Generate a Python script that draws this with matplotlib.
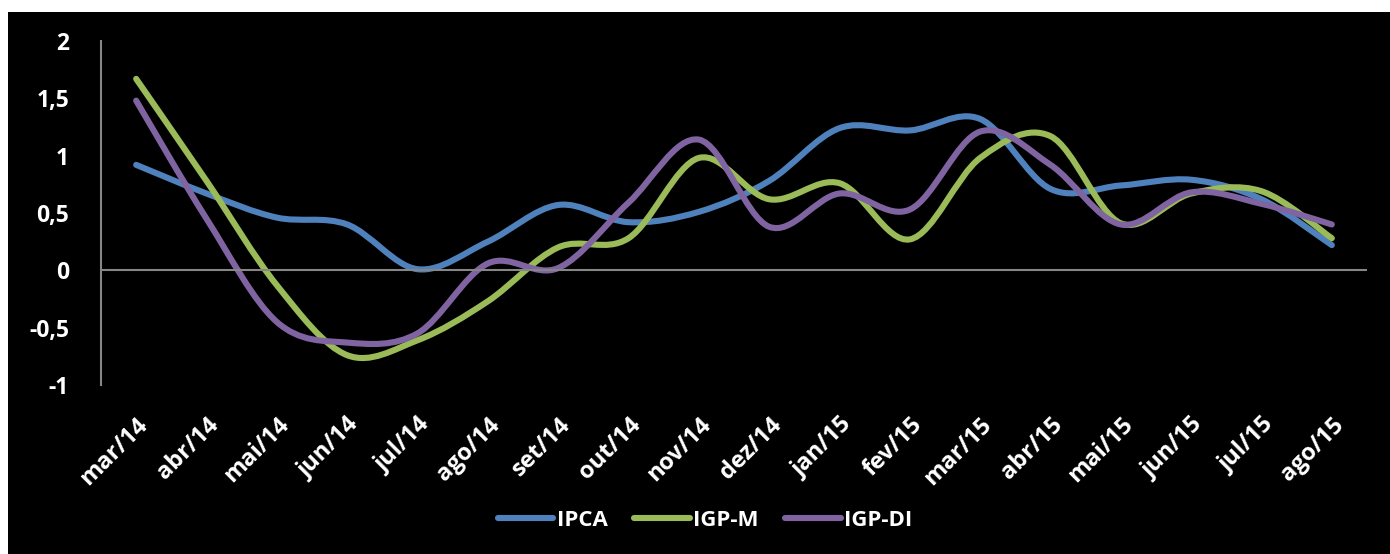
import numpy as np
import matplotlib.pyplot as plt
from matplotlib.path import Path
from matplotlib.patches import PathPatch, Rectangle
from matplotlib.lines import Line2D

# Inflação mensal (%)
meses = ['mar/14', 'abr/14', 'mai/14', 'jun/14', 'jul/14', 'ago/14', 'set/14',
         'out/14', 'nov/14', 'dez/14', 'jan/15', 'fev/15', 'mar/15', 'abr/15',
         'mai/15', 'jun/15', 'jul/15', 'ago/15']
ipca = [0.92, 0.67, 0.46, 0.40, 0.01, 0.25, 0.57, 0.42, 0.51, 0.78, 1.24, 1.22,
        1.32, 0.71, 0.74, 0.79, 0.62, 0.22]
igpm = [1.67, 0.78, -0.13, -0.74, -0.61, -0.27, 0.20, 0.28, 0.98, 0.62, 0.76, 0.27,
        0.98, 1.17, 0.41, 0.67, 0.69, 0.28]
igpdi = [1.48, 0.45, -0.45, -0.63, -0.55, 0.06, 0.02, 0.59, 1.14, 0.38, 0.67, 0.53,
         1.21, 0.92, 0.40, 0.68, 0.58, 0.40]

y_ticks = [-1, -0.5, 0, 0.5, 1, 1.5, 2]
y_labels = ['-1', '-0,5', '0', '0,5', '1', '1,5', '2']

series = [('IPCA', ipca, '#4F81BD'),
          ('IGP-M', igpm, '#9BBB59'),
          ('IGP-DI', igpdi, '#8064A2')]

plt.rcParams['font.family'] = ['Open Sans', 'DejaVu Sans']
plt.rcParams['font.weight'] = 'bold'
branco = 'white'


# curva suavizada (Catmull-Rom -> Bezier cubica) passando pelos pontos
def curva_suave(x, y):
    pts = np.column_stack([x, y]).astype(float)
    n = len(pts)
    verts = [pts[0]]
    codes = [Path.MOVETO]
    for i in range(n - 1):
        p0 = pts[max(i - 1, 0)]
        p1 = pts[i]
        p2 = pts[i + 1]
        p3 = pts[min(i + 2, n - 1)]
        c1 = p1 + (p2 - p0) / 6.0
        c2 = p2 - (p3 - p1) / 6.0
        verts += [c1, c2, p2]
        codes += [Path.CURVE4] * 3
    return Path(verts, codes)


fig = plt.figure(figsize=(13.9, 5.54), dpi=100, facecolor='white')
fig.patches.append(Rectangle((8 / 1390, 0), 1, 1 - 12 / 554, transform=fig.transFigure,
                             facecolor='black', edgecolor='none', zorder=-10))

ax = fig.add_axes([101 / 1390, 1 - 385 / 554, (1367 - 101) / 1390, (385 - 41) / 554])
ax.set_facecolor('black')

x = np.arange(len(meses))
handles = []
for nome, vals, cor in series:
    patch = PathPatch(curva_suave(x, vals), facecolor='none', edgecolor=cor,
                      linewidth=4.4, capstyle='round', joinstyle='round')
    ax.add_patch(patch)
    handles.append(Line2D([], [], color=cor, linewidth=4.4, solid_capstyle='round',
                          label=nome))

ax.set_xlim(-0.5, len(meses) - 0.5)
ax.set_ylim(-1, 2)
ax.axhline(0, color='#868686', linewidth=1.5, zorder=1)

for lado in ['top', 'right', 'bottom']:
    ax.spines[lado].set_visible(False)
ax.spines['left'].set_color('#868686')
ax.spines['left'].set_linewidth(1.5)

ax.set_yticks(y_ticks)
ax.set_yticklabels(y_labels, fontsize=16.5, fontweight='bold', color=branco)
ax.tick_params(axis='y', length=0, pad=23)

ax.set_xticks(x)
ax.set_xticklabels(meses, rotation=45, ha='right', va='top', rotation_mode='anchor',
                   fontsize=17, fontweight='bold', color=branco)
ax.tick_params(axis='x', length=0, pad=20)

leg = fig.legend(handles=handles, loc='center', bbox_to_anchor=(705 / 1390, 1 - 520 / 554),
                 ncol=3, frameon=False, handlelength=2.5, handletextpad=0.15,
                 columnspacing=1.2, prop={'weight': 'bold', 'size': 16})
for t in leg.get_texts():
    t.set_color(branco)

fig.savefig('out.png', dpi=100, facecolor=fig.get_facecolor())
